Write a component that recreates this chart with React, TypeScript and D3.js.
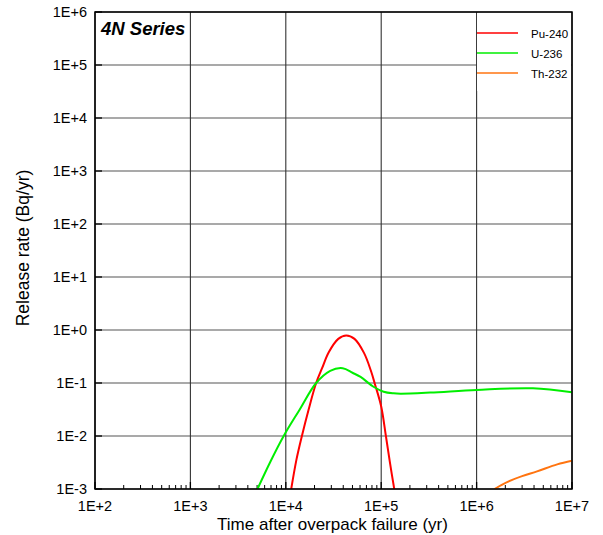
import React from "react";
import * as d3 from "d3";

// release rate data (time in yr, rate in Bq/yr)
const puTime = [11400, 12900, 14750, 17300, 20800, 24000, 28200, 35500, 43000, 52500, 66000, 78000, 86000, 100000, 112000, 124000, 137000];
const puRate = [1e-3, 0.0035, 0.01, 0.031, 0.1, 0.19, 0.38, 0.68, 0.79, 0.68, 0.37, 0.17, 0.095, 0.036, 0.01, 0.003, 1e-3];

const uTime = [5050, 6850, 9500, 13900, 20800, 29200, 39500, 50000, 60800, 83000, 106000, 135000, 160000, 327000, 1e6, 3.9e6, 1e7];
const uRate = [1e-3, 0.0032, 0.01, 0.031, 0.1, 0.17, 0.19, 0.156, 0.13, 0.085, 0.0686, 0.0638, 0.0629, 0.066, 0.0738, 0.0794, 0.0668];

const thTime = [1.54e6, 2.09e6, 3e6, 4.3e6, 7e6, 1e7];
const thRate = [1e-3, 0.00135, 0.00175, 0.00215, 0.00292, 0.00342];

const seriesNames = ["Pu-240", "U-236", "Th-232"];
const seriesColors = ["#ff0000", "#00ee00", "#ff7410"];

const xDecades = [2, 3, 4, 5, 6, 7];
const yDecades = [-3, -2, -1, 0, 1, 2, 3, 4, 5, 6];

const font = "'Liberation Sans', Arial, sans-serif";

function expLabel(e: number) {
  return "1E" + (e >= 0 ? "+" : "-") + Math.abs(e);
}

export default function App() {
  const width = 603;
  const height = 535;
  const margin = { top: 12, right: 31, bottom: 46, left: 95 };
  const plotW = width - margin.left - margin.right;
  const plotH = height - margin.top - margin.bottom;

  const x = d3.scaleLog().domain([1e2, 1e7]).range([margin.left, margin.left + plotW]);
  const y = d3.scaleLog().domain([1e-3, 1e6]).range([margin.top + plotH, margin.top]);

  const line = d3
    .line<[number, number]>()
    .x((d) => x(d[0]))
    .y((d) => y(d[1]))
    .curve(d3.curveCatmullRom.alpha(0.5));

  const series = [
    puTime.map((t, i) => [t, puRate[i]] as [number, number]),
    uTime.map((t, i) => [t, uRate[i]] as [number, number]),
    thTime.map((t, i) => [t, thRate[i]] as [number, number]),
  ];

  // minor ticks 2..9 in each decade
  const minor: number[] = [];
  for (let e = 2; e < 7; e++) {
    for (let k = 2; k <= 9; k++) minor.push(k * Math.pow(10, e));
  }

  const bottom = margin.top + plotH;
  const right = margin.left + plotW;

  return (
    <svg
      width={width}
      height={height}
      style={{ position: "absolute", left: 0, top: 0, background: "#fff" }}
      fontFamily={font}
    >
      <defs>
        <clipPath id="plot">
          <rect x={margin.left} y={margin.top} width={plotW} height={plotH} />
        </clipPath>
      </defs>

      {/* grid */}
      {yDecades.map((e) => (
        <line key={"gy" + e} x1={margin.left} x2={right} y1={y(Math.pow(10, e))} y2={y(Math.pow(10, e))} stroke="#555" strokeWidth={1.2} />
      ))}
      {xDecades.map((e) => (
        <line key={"gx" + e} x1={x(Math.pow(10, e))} x2={x(Math.pow(10, e))} y1={margin.top} y2={bottom} stroke="#333" strokeWidth={1.1} />
      ))}

      {/* legend background hides the grid behind it */}
      <rect x={477} y={margin.top + 1} width={right - 478} height={78} fill="#fff" />

      {/* ticks */}
      {minor.map((v) => (
        <line key={"mt" + v} x1={x(v)} x2={x(v)} y1={bottom} y2={bottom - 4} stroke="#000" strokeWidth={1} />
      ))}
      {xDecades.map((e) => (
        <line key={"xt" + e} x1={x(Math.pow(10, e))} x2={x(Math.pow(10, e))} y1={bottom} y2={bottom - 7} stroke="#000" strokeWidth={1.3} />
      ))}
      {yDecades.map((e) => (
        <line key={"yt" + e} x1={margin.left} x2={margin.left + 7} y1={y(Math.pow(10, e))} y2={y(Math.pow(10, e))} stroke="#000" strokeWidth={1.3} />
      ))}

      {/* curves */}
      <g clipPath="url(#plot)">
        {series.map((s, i) => (
          <path key={seriesNames[i]} d={line(s) || ""} fill="none" stroke={seriesColors[i]} strokeWidth={2} />
        ))}
      </g>

      {/* frame */}
      <rect x={margin.left} y={margin.top} width={plotW} height={plotH} fill="none" stroke="#000" strokeWidth={1.5} />

      {/* tick labels */}
      {yDecades.map((e) => (
        <text key={"yl" + e} x={87} y={y(Math.pow(10, e)) + 5} textAnchor="end" fontSize={14.5} fill="#000">
          {expLabel(e)}
        </text>
      ))}
      {xDecades.map((e) => (
        <text key={"xl" + e} x={x(Math.pow(10, e))} y={511} textAnchor="middle" fontSize={14.5} fill="#000">
          {expLabel(e)}
        </text>
      ))}

      {/* axis titles */}
      <text x={332.5} y={530} textAnchor="middle" fontSize={17} fill="#000">
        Time after overpack failure (yr)
      </text>
      <text
        transform={`translate(28.5, 248) rotate(-90)`}
        textAnchor="middle"
        fontSize={17.5}
        fill="#000"
      >
        Release rate (Bq/yr)
      </text>

      {/* series title */}
      <text x={101} y={35} fontSize={18.5} fontWeight="bold" fontStyle="italic" fill="#000">
        4N Series
      </text>

      {/* legend */}
      {seriesNames.map((name, i) => (
        <g key={"lg" + name}>
          <line x1={477} x2={518} y1={33 + i * 20} y2={33 + i * 20} stroke={seriesColors[i]} strokeWidth={1.5} />
          <text x={531} y={37.5 + i * 20} fontSize={11.5} fill="#000">
            {name}
          </text>
        </g>
      ))}
    </svg>
  );
}
